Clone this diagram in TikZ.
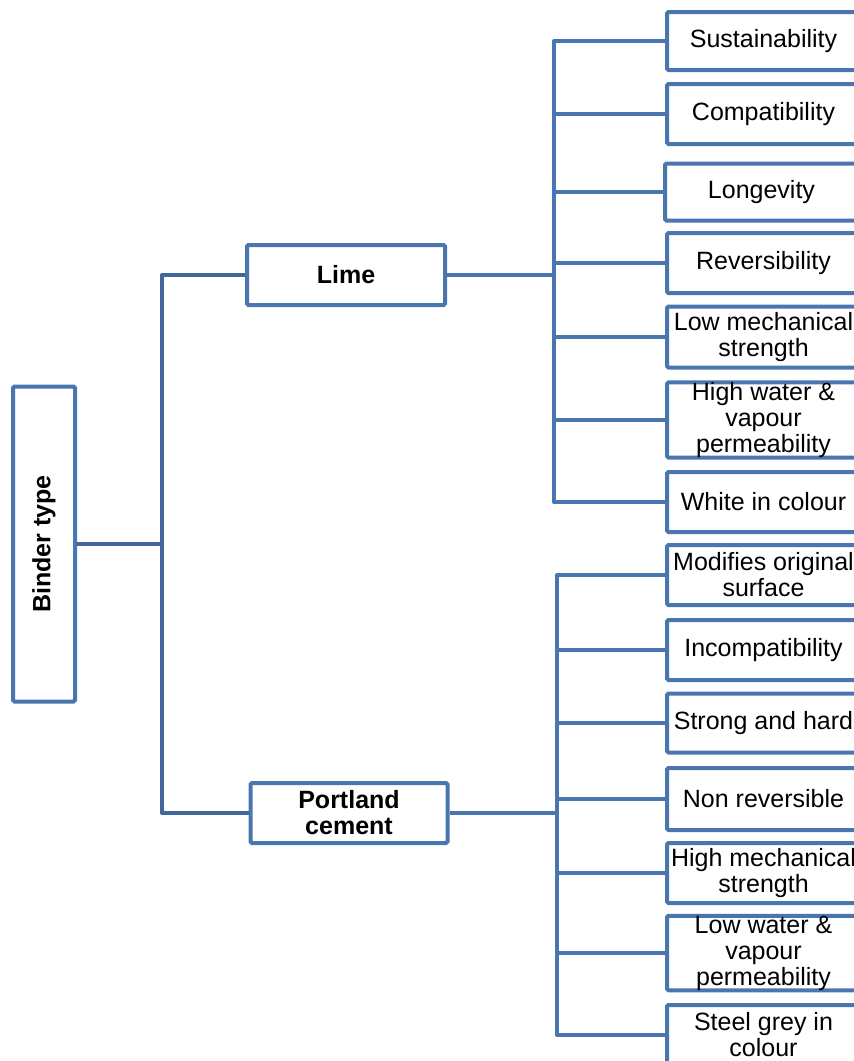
\documentclass[tikz,border=0pt]{standalone}
\usepackage{fontspec}
\setmainfont{Liberation Sans}
\definecolor{boxblue}{HTML}{4A76AF}
\definecolor{trunkblue}{HTML}{41679A}
\tikzset{
  box/.style={draw=boxblue, line width=4pt, rounded corners=1.5pt, fill=white,
    inner sep=0pt, align=center, font=\fontsize{25}{26}\selectfont},
  leaf/.style={box, minimum width=193pt, anchor=west},
  head/.style={box, font=\bfseries\fontsize{25}{26}\selectfont},
  link/.style={draw=boxblue, line width=4pt, line join=round},
  trunk/.style={draw=trunkblue, line width=4pt, line join=round},
}
\begin{document}
\begin{tikzpicture}[x=1pt, y=-1pt]
\useasboundingbox (0,0) rectangle (854,1061);
\clip (0,0) rectangle (854,1061);

% root and the two binders
\node[head, minimum width=62, minimum height=315] (root) at (44,544) {\rotatebox{90}{Binder type}};
\node[head, minimum width=198, minimum height=60] (lime) at (346,275) {Lime};
\node[head, minimum width=197, minimum height=60] (portland) at (349,813) {Portland\\cement};

% properties of lime
\node[leaf, minimum height=58] (l1) at (665,41) {Sustainability};
\node[leaf, minimum height=60] (l2) at (665,114) {Compatibility};
\node[leaf, minimum height=57] (l3) at (663,192) {Longevity};
\node[leaf, minimum height=60] (l4) at (665,263) {Reversibility};
\node[leaf, minimum height=61] (l5) at (665,337) {Low mechanical\\strength};
\node[leaf, minimum height=75] (l6) at (665,420) {High water \&\\vapour\\permeability};
\node[leaf, minimum height=60] (l7) at (665,502) {White in colour};

% properties of Portland cement
\node[leaf, minimum height=60] (p1) at (665,575) {Modifies original\\surface};
\node[leaf, minimum height=60] (p2) at (665,650) {Incompatibility};
\node[leaf, minimum height=59] (p3) at (665,723) {Strong and hard};
\node[leaf, minimum height=62] (p4) at (665,799) {Non reversible};
\node[leaf, minimum height=60] (p5) at (665,873) {High mechanical\\strength};
\node[leaf, minimum height=73] (p6) at (665,953) {Low water \&\\vapour\\permeability};
\node[leaf, minimum height=60] (p7) at (665,1035) {Steel grey in\\colour};

% trunk from the root to both binders
\coordinate (split) at (162,544);
\draw[trunk] (root.east) -- (root.east -| split);
\draw[trunk] (lime.west) -| (split) |- (portland.west);

% lime bus
\coordinate (lbus) at (554,275);
\draw[link] (lime.east) -- (lbus);
\draw[link] (l1.west) -- (l1.west -| lbus) -- (l7.west -| lbus) -- (l7.west);
\foreach \n in {l2,l3,l4,l5,l6}
  \draw[link] (\n.west) -- (\n.west -| lbus);

% Portland cement bus
\coordinate (pbus) at (557,813);
\draw[link] (portland.east) -- (pbus);
\draw[link] (p1.west) -- (p1.west -| pbus) -- (p7.west -| pbus) -- (p7.west);
\foreach \n in {p2,p3,p4,p5,p6}
  \draw[link] (\n.west) -- (\n.west -| pbus);
\end{tikzpicture}
\end{document}
